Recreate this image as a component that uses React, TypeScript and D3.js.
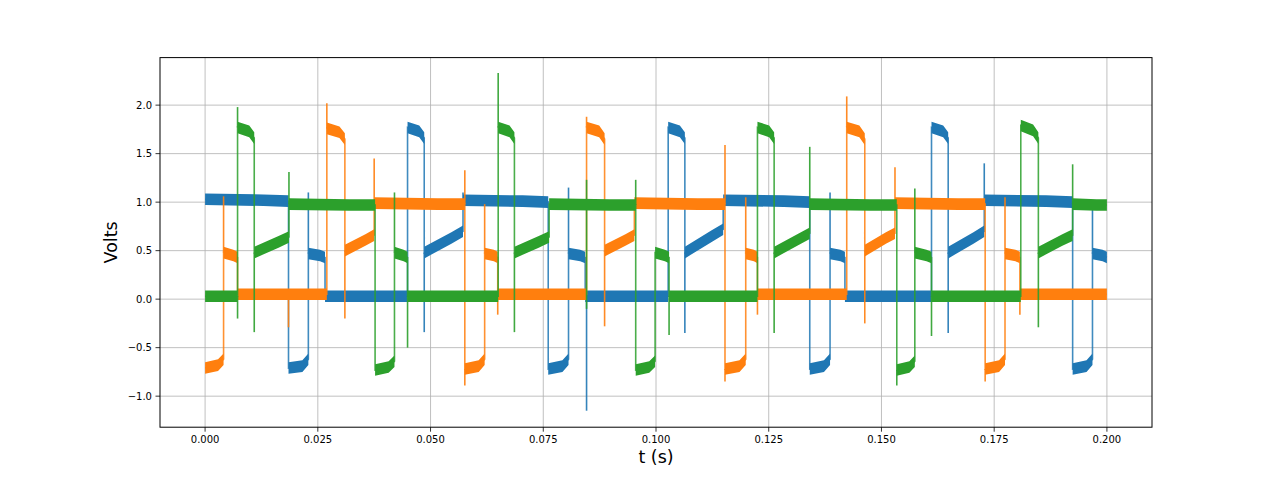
import React, { useEffect } from 'react';
import * as d3 from 'd3';

// Time ticks (s) and voltage ticks
const T_TICKS = [0, 0.025, 0.05, 0.075, 0.1, 0.125, 0.15, 0.175, 0.2];
const V_TICKS = [-1.0, -0.5, 0.0, 0.5, 1.0, 1.5, 2.0];

// Segments: [tStart, tEnd, vStart, vKnee (at 70% of the segment), vEnd]
const blueSegments: number[][] = [
  [0, 0.0185, 1.03, 1.02, 1.01],
  [0.0185, 0.0229, -0.71, -0.69, -0.62],
  [0.0229, 0.0266, 0.47, 0.45, 0.43],
  [0.0266, 0.0449, 0.03, 0.03, 0.03],
  [0.0449, 0.0486, 1.77, 1.73, 1.66],
  [0.0486, 0.0572, 0.48, 0.63, 0.7],
  [0.0572, 0.0761, 1.02, 1.01, 1.0],
  [0.0761, 0.0806, -0.72, -0.69, -0.62],
  [0.0806, 0.0843, 0.47, 0.45, 0.43],
  [0.0843, 0.1027, 0.03, 0.03, 0.03],
  [0.1027, 0.1064, 1.77, 1.73, 1.66],
  [0.1064, 0.1149, 0.48, 0.65, 0.72],
  [0.1149, 0.1341, 1.02, 1.01, 1.0],
  [0.1341, 0.1386, -0.72, -0.69, -0.62],
  [0.1386, 0.1419, 0.47, 0.45, 0.43],
  [0.1419, 0.1611, 0.03, 0.03, 0.03],
  [0.1611, 0.1648, 1.77, 1.73, 1.66],
  [0.1648, 0.1728, 0.48, 0.63, 0.7],
  [0.1728, 0.1924, 1.02, 1.01, 1.0],
  [0.1924, 0.1968, -0.72, -0.69, -0.62],
  [0.1968, 0.2, 0.47, 0.45, 0.43],
];

const orangeSegments: number[][] = [
  [0, 0.0041, -0.71, -0.68, -0.62],
  [0.0041, 0.0072, 0.48, 0.45, 0.43],
  [0.0072, 0.027, 0.05, 0.05, 0.05],
  [0.027, 0.031, 1.76, 1.72, 1.65],
  [0.031, 0.0375, 0.5, 0.61, 0.66],
  [0.0375, 0.0576, 0.99, 0.98, 0.98],
  [0.0576, 0.062, -0.72, -0.69, -0.62],
  [0.062, 0.0649, 0.47, 0.45, 0.43],
  [0.0649, 0.0846, 0.05, 0.05, 0.05],
  [0.0846, 0.0886, 1.77, 1.73, 1.65],
  [0.0886, 0.0952, 0.5, 0.61, 0.66],
  [0.0952, 0.1153, 0.99, 0.98, 0.98],
  [0.1153, 0.1199, -0.72, -0.69, -0.62],
  [0.1199, 0.1225, 0.47, 0.45, 0.43],
  [0.1225, 0.1423, 0.05, 0.05, 0.05],
  [0.1423, 0.1463, 1.77, 1.73, 1.65],
  [0.1463, 0.153, 0.5, 0.63, 0.68],
  [0.153, 0.173, 0.99, 0.98, 0.98],
  [0.173, 0.1774, -0.72, -0.69, -0.62],
  [0.1774, 0.1807, 0.47, 0.45, 0.43],
  [0.1807, 0.2, 0.05, 0.05, 0.05],
];

const greenSegments: number[][] = [
  [0, 0.0072, 0.03, 0.03, 0.03],
  [0.0072, 0.0109, 1.77, 1.73, 1.66],
  [0.0109, 0.0186, 0.48, 0.59, 0.64],
  [0.0186, 0.0377, 0.98, 0.97, 0.97],
  [0.0377, 0.042, -0.73, -0.7, -0.64],
  [0.042, 0.0449, 0.48, 0.45, 0.43],
  [0.0449, 0.065, 0.03, 0.03, 0.03],
  [0.065, 0.0686, 1.77, 1.73, 1.66],
  [0.0686, 0.0763, 0.48, 0.59, 0.64],
  [0.0763, 0.0955, 0.98, 0.97, 0.97],
  [0.0955, 0.0998, -0.73, -0.7, -0.64],
  [0.0998, 0.1029, 0.48, 0.45, 0.43],
  [0.1029, 0.1225, 0.03, 0.03, 0.03],
  [0.1225, 0.1262, 1.77, 1.73, 1.66],
  [0.1262, 0.1341, 0.48, 0.62, 0.68],
  [0.1341, 0.1534, 0.98, 0.97, 0.97],
  [0.1534, 0.1574, -0.73, -0.7, -0.64],
  [0.1574, 0.1611, 0.48, 0.45, 0.43],
  [0.1611, 0.1809, 0.03, 0.03, 0.03],
  [0.1809, 0.1848, 1.79, 1.74, 1.66],
  [0.1848, 0.1924, 0.48, 0.61, 0.66],
  [0.1924, 0.2, 0.98, 0.97, 0.97],
];

// Spikes: [t, peak value]
const blueSpikes: number[][] = [
  [0.0229, 1.1], [0.0486, -0.34], [0.0572, 1.1], [0.0806, 1.15], [0.0846, -1.15],
  [0.1064, -0.35], [0.1386, 1.1], [0.1648, -0.35], [0.1728, 1.4], [0.1968, 0.92],
];
const orangeSpikes: number[][] = [
  [0.0041, 1.06], [0.0185, -0.29], [0.027, 2.02], [0.031, -0.2], [0.0375, 1.45],
  [0.0576, 1.33], [0.0576, -0.89], [0.062, 0.98], [0.0649, -0.16], [0.0846, 1.88],
  [0.0886, -0.28], [0.1153, 1.59], [0.1153, -0.85], [0.1199, 1.05], [0.1225, -0.16],
  [0.1423, 2.09], [0.1463, -0.25], [0.153, 1.36], [0.173, -0.85], [0.1774, 1.05],
  [0.1807, -0.16],
];
const greenSpikes: number[][] = [
  [0.0072, 1.98], [0.0072, -0.2], [0.0109, -0.34], [0.0186, 1.31], [0.042, 1.1],
  [0.0449, -0.5], [0.065, 2.33], [0.0686, -0.34], [0.0846, 1.23], [0.0846, -0.1],
  [0.0955, 1.23], [0.1029, -0.37], [0.1262, -0.35], [0.1341, 1.57], [0.1534, -0.89],
  [0.1574, 1.14], [0.1611, -0.38], [0.1848, -0.29], [0.1924, 1.39],
];

const SERIES = [
  { name: 'blue', color: '#1f77b4', segments: blueSegments, spikes: blueSpikes },
  { name: 'orange', color: '#ff7f0e', segments: orangeSegments, spikes: orangeSpikes },
  { name: 'green', color: '#2ca02c', segments: greenSegments, spikes: greenSpikes },
];

const LEFT = 160, RIGHT = 1152, TOP = 57.6, BOTTOM = 427.2;
const BAND_HALF = 5.8; // px, half thickness of the noisy band
const KNEE = 0.7;

const segPoints = (g: number[]): number[][] => [
  [g[0], g[2]],
  [g[0] + KNEE * (g[1] - g[0]), g[3]],
  [g[1], g[4]],
];

export default function App() {
  useEffect(() => {
    document.body.style.margin = '0';
  }, []);

  const x = d3.scaleLinear().domain([-0.01, 0.21]).range([LEFT, RIGHT]);
  const y = d3.scaleLinear().domain([-1.32, 2.49]).range([BOTTOM, TOP]);
  const line = d3.line<number[]>().x((d) => x(d[0])).y((d) => y(d[1]));
  const band = d3.area<number[]>()
    .x((d) => x(d[0]))
    .y0((d) => y(d[1]) + BAND_HALF)
    .y1((d) => y(d[1]) - BAND_HALF);
  const fx = d3.format('.3f');
  const fy = d3.format('.1f');

  const levelNear = (segs: number[][], t: number, v: number) => {
    let best = 0, bd = Infinity;
    const eps = 0.0004;
    segs.forEach((s) => {
      if (t >= s[0] - eps && t <= s[1] + eps) {
        const tt = Math.min(Math.max(t, s[0]), s[1]);
        const p = segPoints(s);
        const lv = tt <= p[1][0]
          ? p[0][1] + ((p[1][1] - p[0][1]) * (tt - p[0][0])) / (p[1][0] - p[0][0])
          : p[1][1] + ((p[2][1] - p[1][1]) * (tt - p[1][0])) / (p[2][0] - p[1][0]);
        const d = Math.abs(lv - v);
        if (d < bd) { bd = d; best = lv; }
      }
    });
    return best;
  };

  return (
    <svg width={1280} height={480} style={{ display: 'block', background: '#fff' }}
      fontFamily="DejaVu Sans, sans-serif">
      <defs>
        <clipPath id="plotclip">
          <rect x={LEFT} y={TOP} width={RIGHT - LEFT} height={BOTTOM - TOP} />
        </clipPath>
      </defs>
      <g stroke="#b0b0b0" strokeWidth={0.8}>
        {T_TICKS.map((t) => (
          <line key={'gx' + t} x1={x(t)} x2={x(t)} y1={TOP} y2={BOTTOM} />
        ))}
        {V_TICKS.map((v) => (
          <line key={'gy' + v} x1={LEFT} x2={RIGHT} y1={y(v)} y2={y(v)} />
        ))}
      </g>
      <g clipPath="url(#plotclip)">
        {SERIES.map((s) => {
          const pts: number[][] = [];
          s.segments.forEach((g) => { pts.push(...segPoints(g)); });
          return (
            <g key={s.name}>
              <path d={line(pts) || ''} fill="none" stroke={s.color} strokeWidth={1.6} opacity={0.85} />
              {s.spikes.map((p, i) => {
                const lv = levelNear(s.segments, p[0], p[1]);
                return (
                  <line key={'sp' + i} x1={x(p[0])} x2={x(p[0])} y1={y(lv)} y2={y(p[1])}
                    stroke={s.color} strokeWidth={1.6} opacity={0.9} />
                );
              })}
              {s.segments.map((g, i) => (
                <path key={'b' + i} d={band(segPoints(g)) || ''} fill={s.color} stroke="none" />
              ))}
            </g>
          );
        })}
      </g>
      <rect x={LEFT} y={TOP} width={RIGHT - LEFT} height={BOTTOM - TOP} fill="none" stroke="#000" strokeWidth={1} />
      <g fontSize={10} fill="#000">
        {T_TICKS.map((t) => (
          <g key={'xt' + t}>
            <line x1={x(t)} x2={x(t)} y1={BOTTOM} y2={BOTTOM + 4.5} stroke="#000" strokeWidth={0.8} />
            <text x={x(t)} y={BOTTOM + 16} textAnchor="middle">{fx(t)}</text>
          </g>
        ))}
        {V_TICKS.map((v) => (
          <g key={'yt' + v}>
            <line x1={LEFT - 4.5} x2={LEFT} y1={y(v)} y2={y(v)} stroke="#000" strokeWidth={0.8} />
            <text x={LEFT - 8} y={y(v)} dy="0.35em" textAnchor="end">{fy(v)}</text>
          </g>
        ))}
      </g>
      <text x={(LEFT + RIGHT) / 2} y={463} textAnchor="middle" fontSize={17.5}>t (s)</text>
      <text transform={`translate(117,${(TOP + BOTTOM) / 2}) rotate(-90)`} textAnchor="middle" fontSize={17.5}>Volts</text>
    </svg>
  );
}
